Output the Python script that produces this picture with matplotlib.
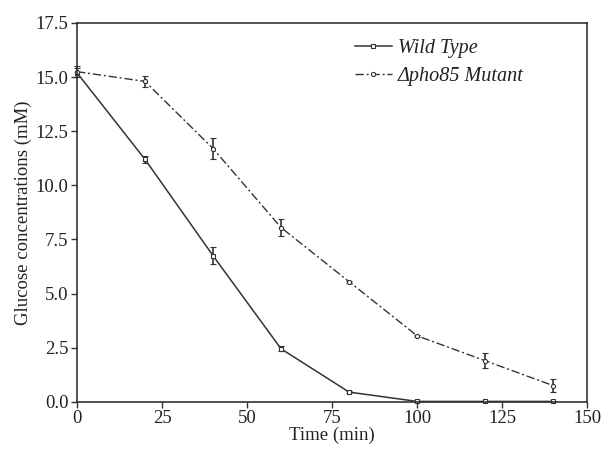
import matplotlib
matplotlib.use("Agg")
import matplotlib.pyplot as plt
from matplotlib.lines import Line2D

plt.rcParams['font.family'] = ['Liberation Serif', 'DejaVu Serif']

# data
time = [0, 20, 40, 60, 80, 100, 120, 140]
wild = [15.2, 11.2, 6.75, 2.45, 0.45, 0.02, 0.02, 0.02]
wild_err = [0.2, 0.15, 0.4, 0.12, 0.03, 0.02, 0.02, 0.02]
mutant = [15.25, 14.8, 11.7, 8.05, 5.55, 3.05, 1.9, 0.75]
mutant_err = [0.25, 0.25, 0.5, 0.4, 0.05, 0.05, 0.35, 0.3]
xticks = [0, 25, 50, 75, 100, 125, 150]
yticks = [0.0, 2.5, 5.0, 7.5, 10.0, 12.5, 15.0, 17.5]

col = '#333333'
dashdot = (0, (6, 2, 1.5, 2))
fig = plt.figure(figsize=(6.06, 4.5), dpi=100)
ax = fig.add_axes([0.127, 0.107, 0.842, 0.842])

ax.errorbar(time, wild, yerr=wild_err, color=col, lw=1.1, marker='s', ms=3,
            mfc='white', mec=col, mew=0.8, capsize=2.5, elinewidth=1.2,
            capthick=1.2, clip_on=False)
ax.errorbar(time, mutant, yerr=mutant_err, color=col, lw=1.0, ls=dashdot,
            marker='o', ms=3, mfc='white', mec=col, mew=0.8, capsize=2.5,
            elinewidth=1.2, capthick=1.2, clip_on=False)

handles = [
    Line2D([], [], color=col, lw=1.1, marker='s', ms=3, mfc='white', mec=col, mew=0.8),
    Line2D([], [], color=col, lw=1.0, ls=dashdot, marker='o', ms=3, mfc='white', mec=col, mew=0.8),
]
labels = ['Wild Type', 'Δpho85 Mutant']

ax.set_xlim(0, 150)
ax.set_ylim(0, 17.5)
ax.set_xticks(xticks)
ax.set_yticks(yticks)
ax.set_yticklabels([f'{v:.1f}' for v in yticks])
ax.tick_params(direction='out', length=4, width=1, colors=col, labelsize=13.5,
               labelcolor='#222222', pad=2)
for s in ax.spines.values():
    s.set_color(col)
    s.set_linewidth(1.2)

ax.set_xlabel('Time (min)', fontsize=13.5, color='#222222', labelpad=0)
ax.set_ylabel('Glucose concentrations (mM)', fontsize=13.5, color='#222222', labelpad=3)

leg = ax.legend(handles, labels, loc='upper left', bbox_to_anchor=(0.51, 1.005),
                frameon=False, handlelength=1.8, handletextpad=0.3,
                labelspacing=0.45, prop={'style': 'italic', 'size': 14.5})
for t in leg.get_texts():
    t.set_color('#222222')

fig.savefig('out.png', dpi=100)
